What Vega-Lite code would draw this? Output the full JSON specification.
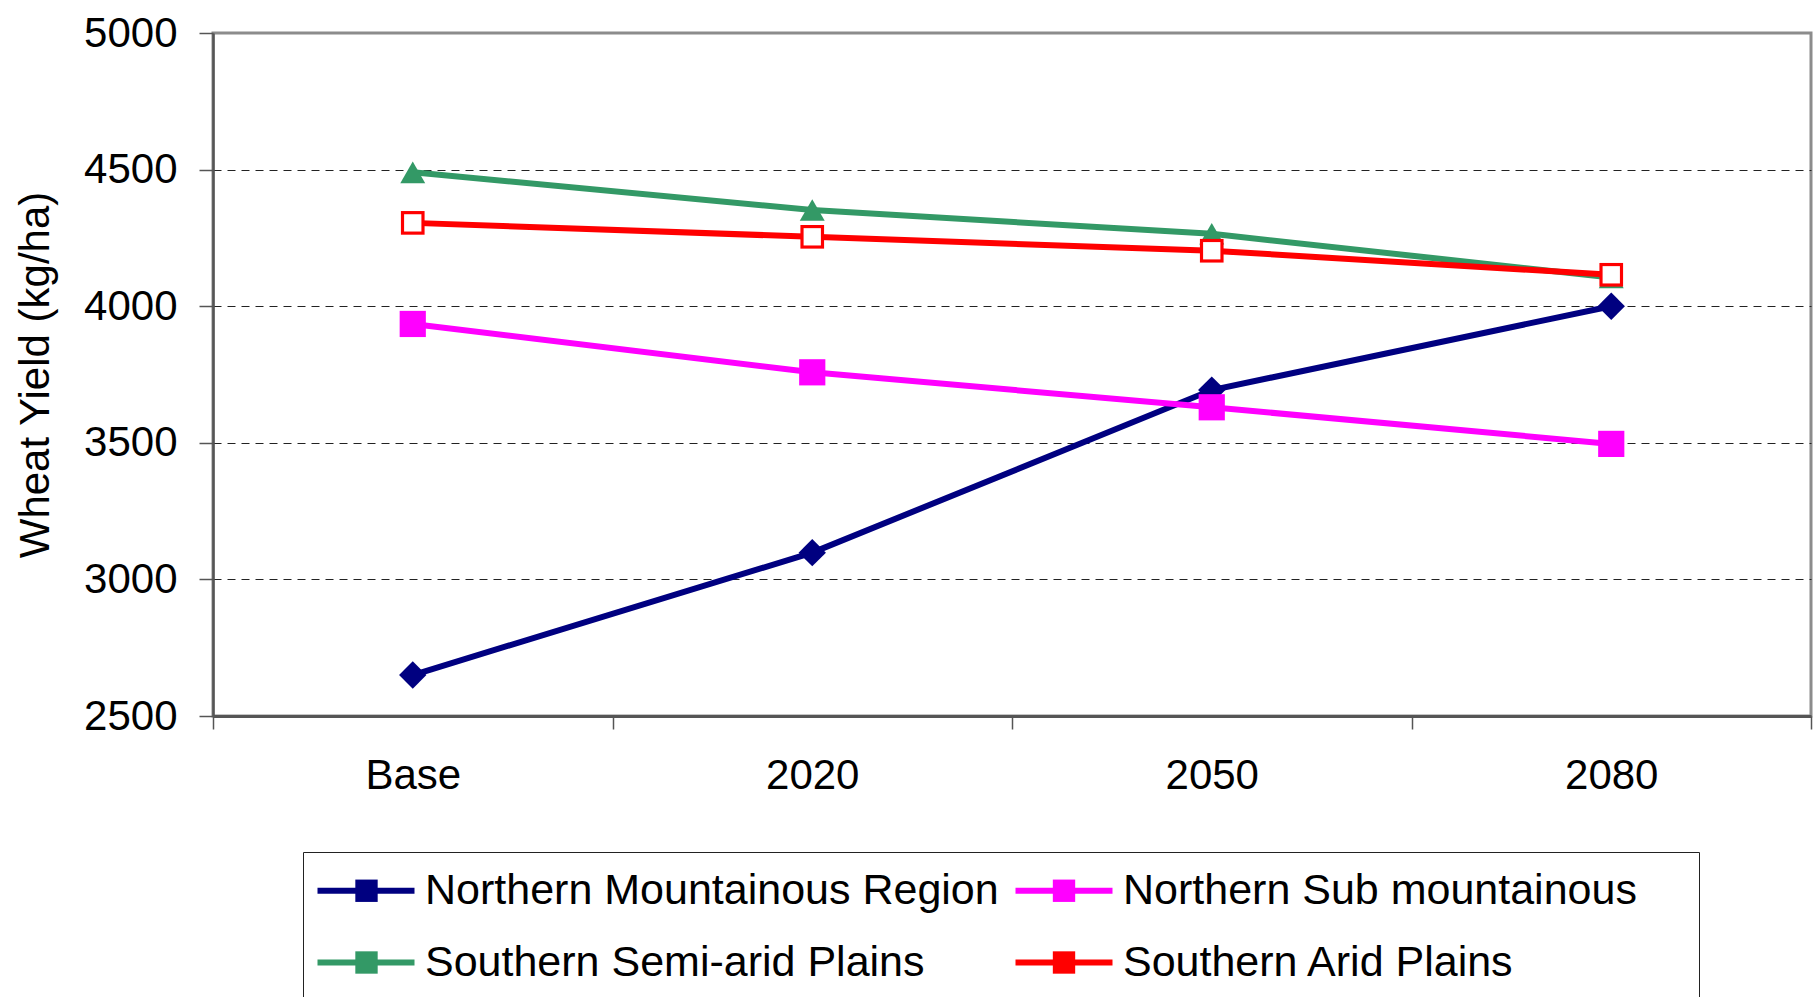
{
  "$schema": "https://vega.github.io/schema/vega-lite/v6.json",
  "width": 1598,
  "height": 683,
  "autosize": "none",
  "padding": {"left": 213, "top": 33, "right": 5, "bottom": 281},
  "background": "white",
  "config": {
    "font": "Liberation Sans",
    "view": {"stroke": "#8c8c8c", "strokeWidth": 3}
  },
  "data": {
    "values": [
      {"series": "Northern Mountainous Region", "period": "Base", "yield": 2650},
      {"series": "Northern Mountainous Region", "period": "2020", "yield": 3098},
      {"series": "Northern Mountainous Region", "period": "2050", "yield": 3693},
      {"series": "Northern Mountainous Region", "period": "2080", "yield": 4000},
      {"series": "Northern Sub mountainous", "period": "Base", "yield": 3935},
      {"series": "Northern Sub mountainous", "period": "2020", "yield": 3758},
      {"series": "Northern Sub mountainous", "period": "2050", "yield": 3630},
      {"series": "Northern Sub mountainous", "period": "2080", "yield": 3496},
      {"series": "Southern Semi-arid Plains", "period": "Base", "yield": 4490},
      {"series": "Southern Semi-arid Plains", "period": "2020", "yield": 4352},
      {"series": "Southern Semi-arid Plains", "period": "2050", "yield": 4265},
      {"series": "Southern Semi-arid Plains", "period": "2080", "yield": 4105},
      {"series": "Southern Arid Plains", "period": "Base", "yield": 4305},
      {"series": "Southern Arid Plains", "period": "2020", "yield": 4254},
      {"series": "Southern Arid Plains", "period": "2050", "yield": 4203},
      {"series": "Southern Arid Plains", "period": "2080", "yield": 4115}
    ]
  },
  "encoding": {
    "x": {
      "field": "period",
      "type": "ordinal",
      "sort": ["Base", "2020", "2050", "2080"],
      "scale": {"type": "band", "paddingInner": 0, "paddingOuter": 0},
      "bandPosition": 0.5,
      "axis": {
        "title": null,
        "labelAngle": 0,
        "labelFontSize": 42,
        "labelColor": "black",
        "tickBand": "extent",
        "ticks": true,
        "tickSize": 13,
        "tickColor": "#555555",
        "tickWidth": 1.5,
        "domainColor": "#555555",
        "domainWidth": 3,
        "labelPadding": 26,
        "grid": false
      }
    },
    "y": {
      "field": "yield",
      "type": "quantitative",
      "scale": {"domain": [2500, 5000], "nice": false, "zero": false},
      "axis": {
        "title": "Wheat Yield (kg/ha)",
        "titleFontSize": 42,
        "titleFontWeight": "normal",
        "titleColor": "black",
        "titlePadding": 26,
        "values": [2500, 3000, 3500, 4000, 4500, 5000],
        "format": "d",
        "labelFontSize": 42,
        "labelColor": "black",
        "labelPadding": 22,
        "tickSize": 14,
        "tickColor": "#555555",
        "tickWidth": 1.5,
        "domainColor": "#555555",
        "domainWidth": 2.5,
        "grid": true,
        "gridColor": "#222222",
        "gridDash": [8, 6],
        "gridWidth": 1,
        "gridOpacity": {"condition": {"test": "datum.value === 2500 || datum.value === 5000", "value": 0}, "value": 1}
      }
    }
  },
  "layer": [
    {
      "mark": {"type": "line", "strokeWidth": 6},
      "encoding": {
        "stroke": {
          "field": "series",
          "type": "nominal",
          "scale": {
            "domain": ["Northern Mountainous Region", "Northern Sub mountainous", "Southern Semi-arid Plains", "Southern Arid Plains"],
            "range": ["#000080", "#FF00FF", "#339966", "#FF0000"]
          },
          "legend": {
            "title": " ",
            "titleOrient": "right",
            "titleFontSize": 1,
            "titlePadding": 45,
            "orient": "none",
            "direction": "horizontal",
            "legendX": 90,
            "legendY": 819,
            "columns": 2,
            "padding": 17,
            "rowPadding": 28,
            "columnPadding": 4,
            "strokeColor": "#222222",
            "fillColor": "white",
            "symbolType": "M-2.4,0H7.3",
            "symbolSize": 400,
            "symbolStrokeWidth": 6,
            "labelOffset": 62,
            "labelFontSize": 43,
            "labelColor": "black",
            "labelLimit": 2000
          }
        }
      }
    },
    {
      "mark": {"type": "point", "filled": true, "strokeWidth": 2.5, "opacity": 1},
      "encoding": {
        "color": {
          "field": "series",
          "type": "nominal",
          "sort": ["Northern Mountainous Region", "Northern Sub mountainous", "Southern Semi-arid Plains", "Southern Arid Plains"],
          "scale": {"range": ["#000080", "#FF00FF", "#339966", "#FF0000"]},
          "legend": {
            "title": null,
            "orient": "none",
            "direction": "horizontal",
            "legendX": 115,
            "legendY": 819,
            "columns": 2,
            "padding": 17,
            "rowPadding": 28,
            "columnPadding": 41.5,
            "symbolType": "square",
            "symbolSize": 500,
            "symbolOpacity": 1,
            "labelOffset": 39,
            "labelFontSize": 43,
            "labelColor": "transparent",
            "labelLimit": 2000
          }
        },
        "shape": {
          "field": "series",
          "type": "nominal",
          "sort": ["Northern Mountainous Region", "Northern Sub mountainous", "Southern Semi-arid Plains", "Southern Arid Plains"],
          "scale": {"range": ["diamond", "square", "triangle-up", "square"]},
          "legend": null
        },
        "size": {
          "field": "series",
          "type": "ordinal",
          "sort": ["Northern Mountainous Region", "Northern Sub mountainous", "Southern Semi-arid Plains", "Southern Arid Plains"],
          "scale": {"range": [750, 560, 900, 400]},
          "legend": null
        }
      }
    },
    {
      "transform": [{"filter": "datum.series === 'Southern Arid Plains'"}],
      "mark": {"type": "point", "filled": true, "shape": "square", "size": 300, "color": "white", "strokeWidth": 0, "opacity": 1}
    }
  ]
}
